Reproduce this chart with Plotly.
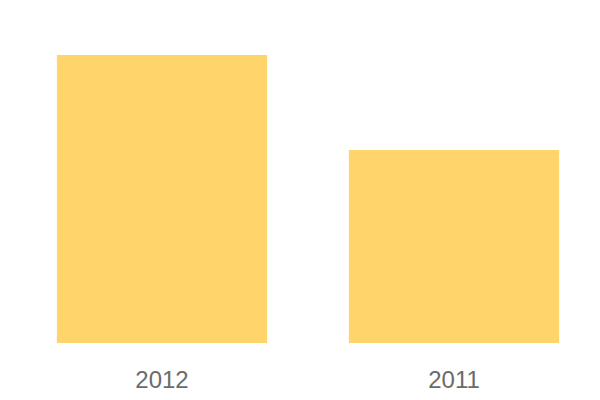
import plotly.graph_objects as go

categories = ["2012", "2011"]
values = [100, 67]

fig = go.Figure(go.Bar(
    x=categories, y=values,
    marker=dict(color="#FFD56B", line=dict(width=0)),
    width=0.72,
))
fig.update_layout(
    width=600, height=400,
    margin=dict(l=8, r=8, t=47, b=65),
    paper_bgcolor="white", plot_bgcolor="white",
    showlegend=False,
    font=dict(family="Liberation Sans, Arial, sans-serif", size=24, color="#6b6b6b"),
)
fig.update_xaxes(showgrid=False, showline=False, zeroline=False, ticks="", ticklabelstandoff=20)
fig.update_yaxes(range=[0, 100], visible=False)
fig.write_html("out.html")
